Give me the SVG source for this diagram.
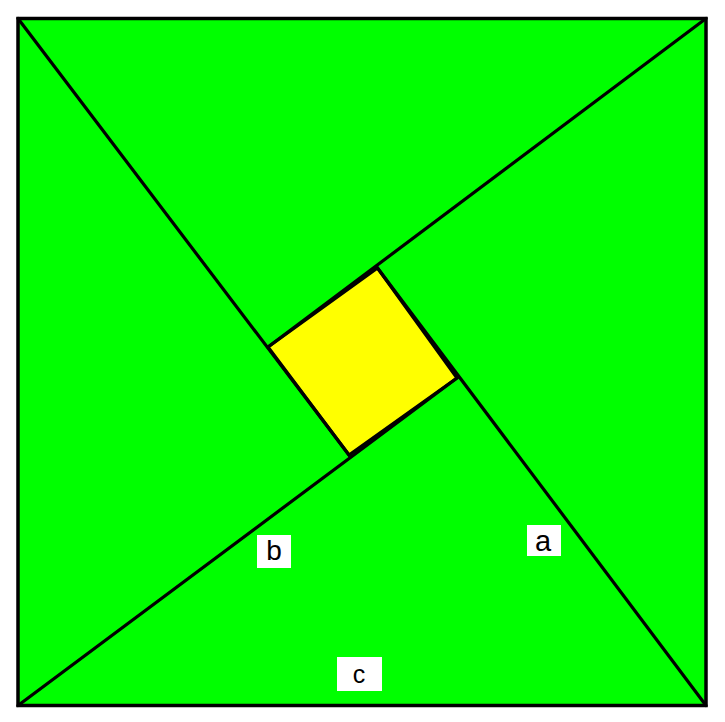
<svg xmlns="http://www.w3.org/2000/svg" width="725" height="722" viewBox="0 0 725 722">
<style>
.ln{stroke:#000;stroke-width:3.2;fill:none;stroke-linecap:round}
.lb{fill:#fff}
.tx{font-family:"Liberation Sans",Arial,sans-serif;fill:#000;text-anchor:middle}
</style>
<rect width="725" height="722" fill="#fff"/>
<g id="outer">
<rect x="18" y="18.5" width="688" height="687" fill="#00ff00" stroke="#000" stroke-width="3.5"/>
</g>
<g id="inner-square">
<polygon points="377.5,268 457,378 349,455 268,347" fill="#ffff00" stroke="#000" stroke-width="3.2"/>
</g>
<g id="connectors">
<line class="ln" x1="18" y1="18.5" x2="349" y2="455"/>
<line class="ln" x1="706" y1="18.5" x2="268" y2="347"/>
<line class="ln" x1="706" y1="705.5" x2="377.5" y2="268"/>
<line class="ln" x1="18" y1="705.5" x2="457" y2="378"/>
</g>
<g id="label-b">
<rect class="lb" x="257" y="535" width="34" height="33"/>
<text class="tx" x="274" y="560" font-size="28">b</text>
</g>
<g id="label-a">
<rect class="lb" x="527" y="525" width="34" height="31"/>
<text class="tx" x="543" y="551" font-size="29">a</text>
</g>
<g id="label-c">
<rect class="lb" x="337" y="657" width="45" height="34"/>
<text class="tx" x="359" y="683" font-size="25">c</text>
</g>
</svg>
